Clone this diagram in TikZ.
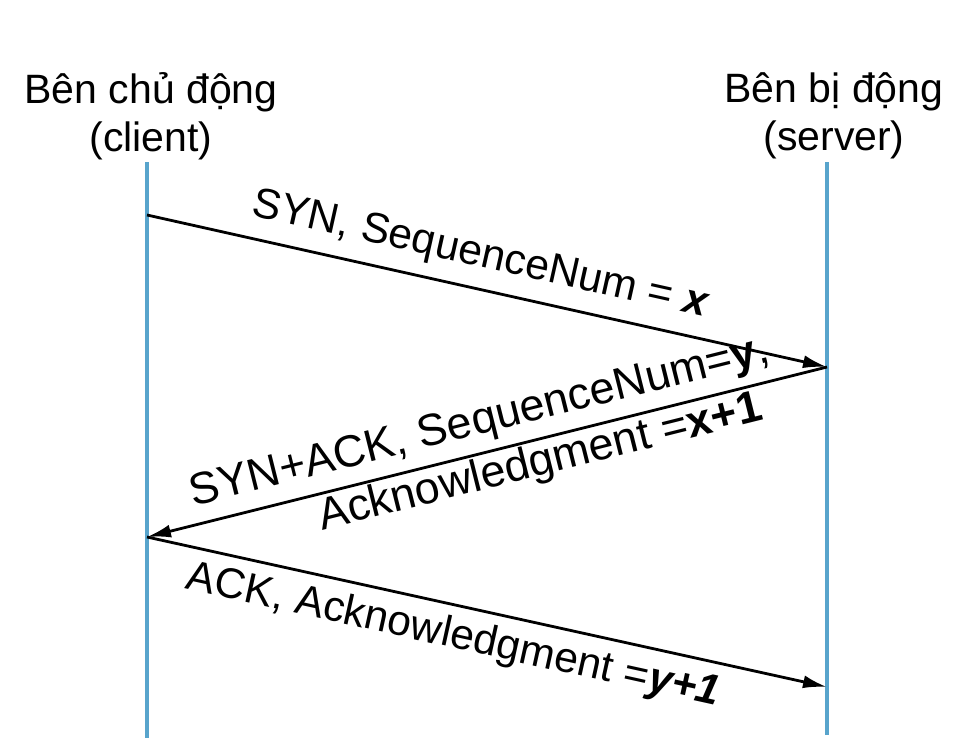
\documentclass[tikz,border=0pt]{standalone}
\usepackage{fontspec}
\setmainfont{Liberation Sans}
\usetikzlibrary{positioning,arrows.meta}
\definecolor{lifeblue}{RGB}{88,164,204}

\begin{document}
\begin{tikzpicture}[
  x=0.5pt, y=-0.5pt,
  font=\fontsize{20.5}{24}\selectfont,
  party/.style={
    align=center,
    inner sep=0pt
  },
  lifeline/.style={
    draw=lifeblue,
    line width=2pt
  },
  msg/.style={
    -{Latex[length=12pt,width=6.5pt]},
    line width=1.4pt,
    draw=black
  },
  msglabel/.style={
    sloped,
    inner sep=1pt,
    font=\fontsize{21.3}{24}\selectfont
  },
  widelabel/.style={
    msglabel,
    font=\fontsize{22.4}{26}\selectfont
  }
]
\useasboundingbox (0,0) rectangle (979,738);

\node[party, anchor=north] (client) at (151,72) {Bên chủ động\\(client)};
\node[party, anchor=north] (server) at (834,72) {Bên bị động\\(server)};

\coordinate (ctop) at (147,162);
\coordinate (cbot) at (147,738);
\coordinate (stop) at (827,162);
\coordinate (sbot) at (827,735);

\draw[lifeline] (ctop) -- (cbot);
\draw[lifeline] (stop) -- (sbot);

\coordinate (c1) at (147,215);
\coordinate (s1) at (827,367);
\coordinate (c2) at (147,537);
\coordinate (s2) at (827,687);

\draw[msg] (c1) -- node[msglabel, pos=0.48, above=5pt] (synlabel) {SYN, SequenceNum = \textbf{\textit{x}}} (s1);
\draw[msg] (s1) -- node[widelabel, pos=0.5, above=3pt] (synacklabel) {SYN+ACK, SequenceNum=\textbf{y},}
  node[widelabel, pos=0.43, below=0pt] (acklabela) {Acknowledgment =\textbf{x+1}} (c2);
\draw[msg] (c2) -- node[msglabel, pos=0.46, below=4pt] (acklabelb) {ACK, Acknowledgment =\textbf{\textit{y+1}}} (s2);

\end{tikzpicture}
\end{document}
